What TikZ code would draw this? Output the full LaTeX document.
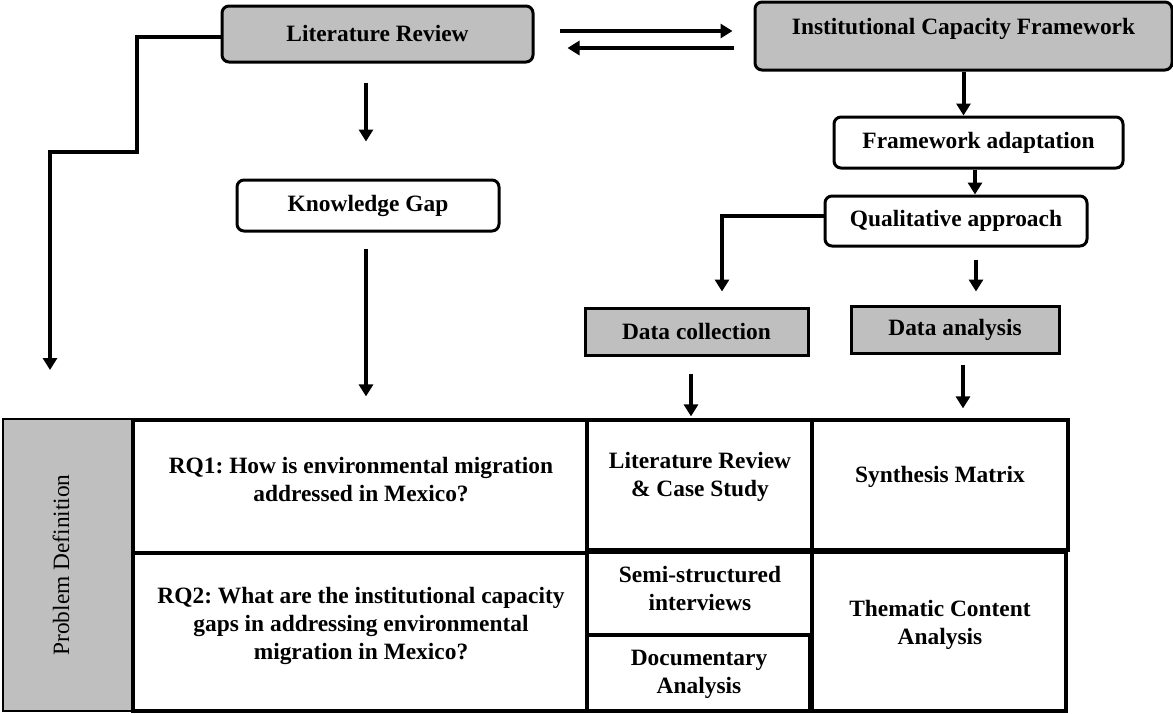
\documentclass[tikz,border=0pt]{standalone}
\usepackage{fontspec}
\setmainfont{Liberation Serif}
\usetikzlibrary{arrows.meta}
\definecolor{boxgray}{RGB}{191,191,191}
\frenchspacing
\begin{document}
\begin{tikzpicture}[x=0.5pt,y=-0.5pt,
  txtfont/.style={font=\bfseries\fontsize{11.7}{14}\selectfont},
  rbox/.style={draw, line width=1.5pt, rounded corners=3.5pt, inner sep=0pt, txtfont},
  sbox/.style={draw, line width=1.5pt, inner sep=0pt, txtfont},
  gfill/.style={fill=boxgray},
  cell/.style={draw, line width=1.6pt, inner sep=0pt},
  txt/.style={align=center, inner sep=0pt, txtfont},
  conn/.style={line width=2pt},
  arr/.style={conn, -{Triangle[width=7pt,length=6pt]}}
]
\useasboundingbox (0,0) rectangle (1173,713);

% top boxes
\node[rbox, gfill, minimum width=155.5pt, minimum height=28pt] (LR) at (377.5,34) {Literature Review};
\node[rbox, gfill, minimum width=208.5pt, minimum height=34pt, text depth=10pt] (ICF) at (963.5,36) {Institutional Capacity Framework};
\node[rbox, minimum width=131pt, minimum height=25.5pt] (KG) at (368,205.5) {Knowledge Gap};
\node[rbox, minimum width=144.5pt, minimum height=25.5pt] (FA) at (978.5,142.5) {Framework adaptation};
\node[rbox, minimum width=131pt, minimum height=25pt] (QA) at (956,221) {Qualitative approach};
\node[sbox, gfill, minimum width=111.5pt, minimum height=23.5pt] (DC) at (696.5,331.5) {Data collection};
\node[sbox, gfill, minimum width=104pt, minimum height=23.5pt] (DA) at (955,329.5) {Data analysis};

% table cells
\node[draw, line width=1pt, fill=boxgray, inner sep=0pt, minimum width=65pt, minimum height=146pt] (PD) at (68,565) {};
\node[cell, minimum width=227pt, minimum height=66.5pt] (RQ1) at (360,486.5) {};
\node[cell, minimum width=227pt, minimum height=79pt] (RQ2) at (360,632) {};
\node[cell, minimum width=112.5pt, minimum height=65pt] (LRCS) at (699.5,485) {};
\node[cell, minimum width=128pt, minimum height=65pt] (SM) at (940,485) {};
\node[cell, minimum width=112.5pt, minimum height=41.5pt] (SEMI) at (699.5,593.5) {};
\node[cell, minimum width=111.5pt, minimum height=38pt] (DOC) at (698.5,673) {};
\node[cell, minimum width=127pt, minimum height=79.5pt] (TCA) at (939,631.5) {};

% table texts
\node[inner sep=0pt, rotate=90, font=\fontsize{11.7}{14}\selectfont] (PDt) at (61,565) {Problem Definition};
\node[txt] (RQ1t) at (361,480) {RQ1: How is environmental migration\\addressed in Mexico?};
\node[txt] (RQ2t) at (361,626) {RQ2: What are the institutional capacity\\gaps in addressing environmental\\migration in Mexico?};
\node[txt] (LRCSt) at (700,477) {Literature Review\\\& Case Study};
\node[txt] (SMt) at (940,477) {Synthesis Matrix};
\node[txt] (SEMIt) at (700,588) {Semi-structured\\interviews};
\node[txt] (DOCt) at (699,674) {Documentary\\Analysis};
\node[txt] (TCAt) at (940,625) {Thematic Content\\Analysis};

% connectors
\draw[arr, shorten <=12.5pt, shorten >=10.5pt] ([yshift=1.5pt]LR.east) -- ([yshift=1.5pt]LR.east -| ICF.west);
\draw[arr, shorten <=10pt, shorten >=16.5pt] ([yshift=-7pt]LR.east -| ICF.west) -- ([yshift=-7pt]LR.east);
\draw[arr, shorten <=9.5pt, shorten >=18.5pt] ([xshift=-1pt]KG.north |- LR.south) -- ([xshift=-1pt]KG.north);
\draw[arr, shorten <=8pt, shorten >=11pt] ([xshift=-1pt]KG.south) -- ([xshift=-1pt]KG.south |- RQ1.north);
\coordinate (c1) at (137,152);
\coordinate (c2) at (50,370);
\draw[arr] ([yshift=-1.5pt]LR.west) -| (c1) -| (c2);
\draw[arr] (ICF.south) -- (ICF.south |- FA.north);
\draw[arr] ([xshift=-1.75pt]FA.south) -- ([xshift=-1.75pt]FA.south |- QA.north);
\draw[arr] ([yshift=2.5pt]QA.west) -| ([xshift=12.75pt,yshift=7.5pt]DC.north);
\draw[arr, shorten <=6pt, shorten >=6.5pt] ([xshift=10.5pt]DA.north |- QA.south) -- ([xshift=10.5pt]DA.north);
\draw[arr, shorten <=8.5pt, shorten >=1pt] ([xshift=-2.75pt]DC.south) -- ([xshift=-2.75pt]DC.south |- LRCS.north);
\draw[arr, shorten <=5pt, shorten >=5pt] ([xshift=4pt]DA.south) -- ([xshift=4pt]DA.south |- SM.north);
\end{tikzpicture}
\end{document}
